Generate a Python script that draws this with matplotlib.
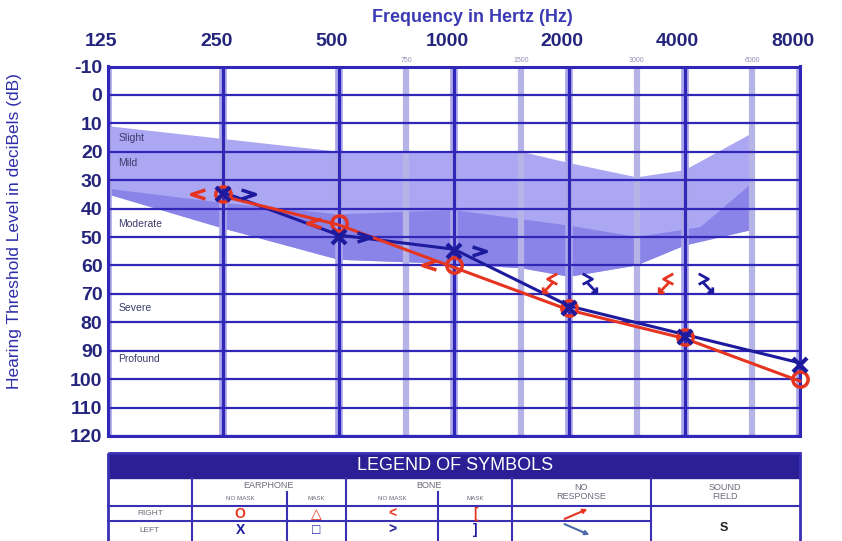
import matplotlib
matplotlib.use('Agg')
import matplotlib.pyplot as plt
import matplotlib.patheffects as pe
from matplotlib.path import Path
from matplotlib.patches import Rectangle
from matplotlib.transforms import offset_copy, ScaledTranslation

plt.rcParams['font.family'] = ['Liberation Sans', 'DejaVu Sans']

# thresholds in dB HL
freqs = [250, 500, 1000, 2000, 4000, 8000]
right_air = [35, 45, 60, 75, 85, 100]
left_air = [35, 50, 55, 75, 85, 95]
bone_freqs = [250, 500, 1000]
right_bone = [35, 45, 60]
left_bone = [35, 50, 55]
nr_freqs = [2000, 4000]
right_nr = [66, 66]
left_nr = [66, 66]

# shaded degree-of-loss zones
zone_top_f = [125, 500, 1500, 2000, 3000, 4000, 6000]
zone_top_db = [11, 20, 20, 24, 29, 26.5, 13.5]
zone_bot_f = [125, 250, 500, 1000, 1500, 2000, 3000, 4000, 6000]
zone_bot_db = [35, 47, 58, 59.5, 61, 64, 60, 53, 47.5]
mod_top_f = [125, 250, 500, 1000, 2000, 3000, 4400, 6000]
mod_top_db = [33, 38, 42, 40.5, 46, 50, 46.5, 31]

degree_labels = ['Slight', 'Mild', 'Moderate', 'Severe', 'Profound']
degree_db = [15, 24, 45.5, 75, 93]

octaves = [125, 250, 500, 1000, 2000, 4000, 8000]
half_octaves = [750, 1500, 3000, 6000]
db_ticks = list(range(-10, 121, 10))

# legend table contents
row_names = ['RIGHT', 'LEFT']
right_syms = ['O', '\u25b3', '<', '[']
left_syms = ['X', '\u25a1', '>', ']']

red = '#e5341f'
blue = '#1d1a9e'
grid_c = '#3026b8'
halo = '#aaa6e8'
minor_c = '#b6b3e6'
navy = '#24247c'
light_fill = '#aba7f3'
dark_fill = '#8a84e8'

W, H = 842, 541
fig = plt.figure(figsize=(W / 100, H / 100), dpi=100)
ax = fig.add_axes([108 / W, 1 - 436 / H, 692 / W, (436 - 66.5) / H])
ax.set_xscale('log', base=2)
ax.set_xlim(125, 8000)
ax.set_ylim(120, -10)

# shading
ax.fill(zone_top_f + zone_bot_f[::-1], zone_top_db + zone_bot_db[::-1],
        color=light_fill, lw=0, zorder=1)
ax.fill(mod_top_f + zone_bot_f[::-1], mod_top_db + zone_bot_db[::-1],
        color=dark_fill, lw=0, zorder=1.1)

# ticks
ax.xaxis.tick_top()
ax.set_xticks(octaves)
ax.set_xticklabels([str(f) for f in octaves], fontweight='bold')
ax.set_xticks(half_octaves, minor=True)
ax.set_xticklabels([str(f) for f in half_octaves], minor=True)
ax.tick_params(axis='x', which='major', length=0, pad=12, labelsize=14, labelcolor=navy)
ax.tick_params(axis='x', which='minor', length=0, pad=2, labelsize=5, labelcolor='#9090b8')
shift = ScaledTranslation(-7 / 100, 0, fig.dpi_scale_trans)
for lbl in ax.get_xticklabels():
    lbl.set_transform(lbl.get_transform() + shift)

ax.set_yticks(db_ticks)
ax.set_yticklabels([str(d) for d in db_ticks], fontweight='bold')
ax.tick_params(axis='y', length=0, pad=4, labelsize=14, labelcolor=navy)

ax.set_axisbelow('line')
ax.grid(True, which='major', axis='y', color=grid_c, lw=1.6)
ax.grid(True, which='major', axis='x', color=grid_c, lw=2.2)
ax.grid(True, which='minor', axis='x', color=minor_c, lw=4.5)
for gl in ax.xaxis.get_gridlines():
    gl.set_path_effects([pe.withStroke(linewidth=5.5, foreground=halo), pe.Normal()])
for sp in ax.spines.values():
    sp.set_color(grid_c)
    sp.set_linewidth(2.2)

for lab, d in zip(degree_labels, degree_db):
    ax.text(133, d, lab, fontsize=7.5, color='#3c3c6c', va='center', zorder=2)

# threshold lines
up = offset_copy(ax.transData, fig=fig, x=0, y=2, units='dots')
down = offset_copy(ax.transData, fig=fig, x=0, y=-2, units='dots')
ax.plot(freqs, left_air, color=blue, lw=2.2, transform=up, zorder=3, clip_on=False)
ax.plot(freqs, right_air, color=red, lw=2.2, transform=down, zorder=3, clip_on=False)
ax.plot(freqs, right_air, ls='none', marker='o', ms=11, mfc='none', mec=red, mew=2.5,
        zorder=4, clip_on=False)
ax.plot(freqs, left_air, ls='none', marker='x', ms=10, mec=blue, mew=3, zorder=5, clip_on=False)

# bone conduction
lt = Path([(1, 0.65), (-1, 0), (1, -0.65)], [Path.MOVETO, Path.LINETO, Path.LINETO])
gt = Path([(-1, 0.65), (1, 0), (-1, -0.65)], [Path.MOVETO, Path.LINETO, Path.LINETO])
to_left = offset_copy(ax.transData, fig=fig, x=-25, y=0, units='dots')
to_right = offset_copy(ax.transData, fig=fig, x=25, y=0, units='dots')
ax.plot(bone_freqs, right_bone, ls='none', marker=lt, ms=10, mfc='none', mec=red, mew=2.5,
        transform=to_left, zorder=4)
ax.plot(bone_freqs, left_bone, ls='none', marker=gt, ms=10, mfc='none', mec=blue, mew=2.5,
        transform=to_right, zorder=4)

# no response (bone)
codes = [Path.MOVETO, Path.LINETO, Path.LINETO, Path.MOVETO, Path.LINETO,
         Path.MOVETO, Path.LINETO, Path.LINETO]
nr_r = Path([(0.7, 1), (-0.3, 0.45), (0.7, -0.1), (0.2, 0.05), (-0.7, -0.9),
             (-0.75, -0.4), (-0.75, -0.95), (-0.2, -0.95)], codes)
nr_l = Path([(-0.7, 1), (0.3, 0.45), (-0.7, -0.1), (-0.2, 0.05), (0.7, -0.9),
             (0.75, -0.4), (0.75, -0.95), (0.2, -0.95)], codes)
nr_left = offset_copy(ax.transData, fig=fig, x=-19, y=0, units='dots')
nr_right = offset_copy(ax.transData, fig=fig, x=20, y=0, units='dots')
ax.plot(nr_freqs, right_nr, ls='none', marker=nr_r, ms=14, mfc='none', mec=red, mew=2,
        transform=nr_left, zorder=4)
ax.plot(nr_freqs, left_nr, ls='none', marker=nr_l, ms=14, mfc='none', mec=blue, mew=2,
        transform=nr_right, zorder=4)

fig.text(472 / W, 1 - 18 / H, 'Frequency in Hertz (Hz)', ha='center', va='center',
         fontsize=13, fontweight='bold', color='#3a3ab4')
fig.text(15 / W, 1 - 231 / H, 'Hearing Threshold Level in deciBels (dB)', rotation=90,
         ha='center', va='center', fontsize=12.5, color='#2e2eaa')

# legend of symbols
tab = fig.add_axes([0, 0, 1, 1])
tab.set_xlim(0, W)
tab.set_ylim(H, 0)
tab.axis('off')
tab.patch.set_alpha(0)
line_c = '#3a30b4'
tab.add_patch(Rectangle((108, 453), 692, 25, facecolor='#2a1f94', edgecolor='#2a1f94'))
tab.add_patch(Rectangle((108, 453), 692, 100, facecolor='none', edgecolor=line_c, lw=2))
tab.text(455, 466, 'LEGEND OF SYMBOLS', color='white', fontsize=13, ha='center', va='center')
tab.plot([108, 800], [506, 506], color=line_c, lw=1.5)
tab.plot([108, 651], [521, 521], color=line_c, lw=1.5)
for x in [192, 346, 512, 651]:
    tab.plot([x, x], [478, 545], color=line_c, lw=1.5)
for x in [287, 438]:
    tab.plot([x, x], [492, 545], color=line_c, lw=1.5)

hdr = dict(color='#6a6a7a', ha='center', va='center')
tab.text(268, 486, 'EARPHONE', fontsize=6.5, **hdr)
tab.text(240, 498, 'NO MASK', fontsize=4.5, **hdr)
tab.text(316, 498, 'MASK', fontsize=4.5, **hdr)
tab.text(429, 486, 'BONE', fontsize=6.5, **hdr)
tab.text(392, 498, 'NO MASK', fontsize=4.5, **hdr)
tab.text(475, 498, 'MASK', fontsize=4.5, **hdr)
tab.text(581, 492, 'NO\nRESPONSE', fontsize=6.5, linespacing=0.9, **hdr)
tab.text(725, 492, 'SOUND\nFIELD', fontsize=6.5, linespacing=0.9, **hdr)
tab.text(150, 513.5, row_names[0], fontsize=6, **hdr)
tab.text(150, 530, row_names[1], fontsize=6, **hdr)

for x, sr, sl in zip([240, 316, 392, 475], right_syms, left_syms):
    tab.text(x, 514, sr, color=red, fontsize=10, fontweight='bold', ha='center', va='center')
    tab.text(x, 530, sl, color=blue, fontsize=10, fontweight='bold', ha='center', va='center')
tab.annotate('', xy=(590, 508), xytext=(562, 520),
             arrowprops=dict(arrowstyle='-|>', color=red, lw=1.5, mutation_scale=6))
tab.annotate('', xy=(592, 536), xytext=(562, 523),
             arrowprops=dict(arrowstyle='-|>', color='#4a6aa8', lw=1.5, mutation_scale=6))
tab.text(724, 528, 'S', color='#222222', fontsize=9, fontweight='bold', ha='center', va='center')

fig.savefig('out.png', dpi=100)
